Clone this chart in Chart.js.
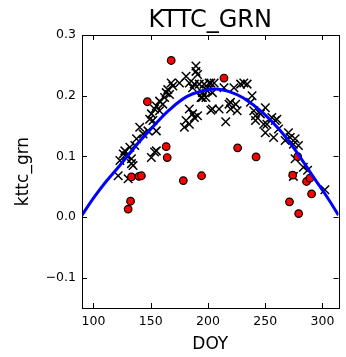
<!DOCTYPE html>
<html><head><meta charset="utf-8">
<script src="https://cdn.jsdelivr.net/npm/chart.js@4/dist/chart.umd.min.js"></script>
<style>html,body{margin:0;padding:0;background:#fff}#wrap{width:346px;height:357px}</style>
</head><body><div id="wrap"><canvas id="c" width="346" height="357"></canvas></div>
<script>
const chartTitle = 'KTTC_GRN';
const xTitle = 'DOY';
const yTitle = 'kttc_grn';
const xTicks = [100, 150, 200, 250, 300];
const xTickLabels = ['100', '150', '200', '250', '300'];
const yTicks = [-0.1, 0.0, 0.1, 0.2, 0.3];
const yTickLabels = ['\u22120.1', '0.0', '0.1', '0.2', '0.3'];

const crossDoy = [121.6,123.1,126.0,127.4,130.3,131.8,133.2,134.6,136.1,137.6,130.3,133.2,128.9,140.4,143.3,147.6,154.9,149.1,151.9,150.6,
  153.4,154.9,157.7,160.6,162.1,163.5,166.4,164.9,167.9,169.3,175.1,180.9,183.7,186.6,189.5,189.5,192.4,198.2,202.5,154.9,
  150.6,153.4,157.7,183.7,180.9,183.7,179.4,188.1,186.6,203.9,195.2,190.9,188.1,196.7,201.0,205.4,195.2,199.6,203.9,193.9,
  198.2,190.9,202.5,209.7,215.5,218.4,219.8,222.7,224.2,225.5,228.5,231.3,234.2,238.5,237.1,240.0,241.5,245.8,248.7,250.1,
  214.0,250.1,255.8,251.5,258.8,257.3,261.6,270.3,271.8,276.1,279.0,274.6,267.4,276.1,283.3,287.0,274.6,302.1,260.2,219.6,241.5];
const crossGrn = [0.068,0.093,0.104,0.109,0.101,0.115,0.096,0.085,0.118,0.129,0.063,0.088,0.101,0.148,0.137,0.142,0.142,0.161,0.159,0.170,
  0.178,0.183,0.191,0.186,0.197,0.205,0.202,0.210,0.221,0.216,0.221,0.232,0.221,0.213,0.249,0.240,0.219,0.210,0.221,0.109,
  0.098,0.107,0.175,0.178,0.159,0.153,0.148,0.164,0.170,0.178,0.197,0.235,0.219,0.219,0.221,0.221,0.205,0.208,0.205,0.197,
  0.197,0.167,0.176,0.178,0.157,0.186,0.178,0.213,0.186,0.175,0.219,0.221,0.219,0.200,0.189,0.175,0.159,0.170,0.153,0.139,
  0.213,0.180,0.164,0.153,0.159,0.131,0.145,0.139,0.131,0.129,0.118,0.120,0.126,0.096,0.082,0.077,0.067,0.045,0.161,0.189,0.167];

const circDoy = [167.9,147.1,163.5,164.4,133.2,139.8,141.9,132.4,130.3,178.5,194.4,214.0,225.9,242.0,278.4,274.0,286.1,289.0,290.5,271.2,279.2];
const circGrn = [0.258,0.190,0.116,0.098,0.066,0.067,0.068,0.026,0.013,0.060,0.068,0.229,0.114,0.099,0.0995,0.069,0.0585,0.064,0.038,0.025,0.0056];

const fitDoy = [90, 100, 110, 123, 140, 152, 166, 181, 195, 207, 218, 231, 249, 266, 280, 292, 304, 314];
const fitGrn = [0.003, 0.031, 0.056, 0.085, 0.124, 0.149, 0.176, 0.198, 0.208, 0.211, 0.207, 0.196, 0.170, 0.136, 0.100, 0.066, 0.033, 0.003];

const toXY = (xs, ys) => xs.map((x, i) => ({x: x, y: ys[i]}));
const FONT = 'DejaVu Sans';

const framePlugin = {
  id: 'frame',
  afterDraw(chart) {
    const ctx = chart.ctx, a = chart.chartArea;
    const xs = chart.scales.x, ys = chart.scales.y;
    ctx.save();
    ctx.strokeStyle = '#000';
    ctx.lineWidth = 1;
    ctx.beginPath();
    const L = 5;
    xTicks.forEach(v => {
      const p = Math.round(xs.getPixelForValue(v)) + 0.5;
      ctx.moveTo(p, a.bottom); ctx.lineTo(p, a.bottom - L);
      ctx.moveTo(p, a.top); ctx.lineTo(p, a.top + L);
    });
    yTicks.forEach(v => {
      const p = Math.round(ys.getPixelForValue(v)) + 0.5;
      ctx.moveTo(a.left, p); ctx.lineTo(a.left + L, p);
      ctx.moveTo(a.right, p); ctx.lineTo(a.right - L, p);
    });
    ctx.stroke();
    ctx.strokeRect(Math.round(a.left) + 0.5, Math.round(a.top) + 0.5, Math.round(a.right - a.left), Math.round(a.bottom - a.top));
    ctx.fillStyle = '#000';
    ctx.font = '24px "' + FONT + '"';
    ctx.textAlign = 'center';
    ctx.textBaseline = 'alphabetic';
    ctx.fillText(chartTitle, (a.left + a.right) / 2, 27);
    ctx.restore();
  }
};

new Chart(document.getElementById('c'), {
  type: 'scatter',
  data: {
    datasets: [
      {
        label: 'fit', data: toXY(fitDoy, fitGrn), showLine: true, borderColor: '#0000ff', borderWidth: 3,
        pointRadius: 0, tension: 0.4, order: 0, fill: false
      },
      {
        label: 'circles', data: toXY(circDoy, circGrn), pointStyle: 'circle', pointRadius: 3.8,
        backgroundColor: '#ff0000', borderColor: '#000', borderWidth: 1.2, order: 1
      },
      {
        label: 'crosses', data: toXY(crossDoy, crossGrn), pointStyle: 'crossRot', pointRadius: 6,
        borderColor: '#000', backgroundColor: '#000', borderWidth: 1.5, order: 2
      }
    ]
  },
  options: {
    responsive: false,
    animation: false,
    devicePixelRatio: 1,
    layout: { padding: { top: 35, right: 6, left: 0, bottom: 0 } },
    plugins: { legend: { display: false }, tooltip: { enabled: false }, title: { display: false } },
    scales: {
      x: {
        type: 'linear', min: 90, max: 314,
        afterBuildTicks: s => { s.ticks = xTicks.map(v => ({value: v})); },
        afterFit: s => { s.height = 49; },
        ticks: { color: '#000', font: { family: FONT, size: 12.5 }, padding: 6,
          callback: (v) => { const i = xTicks.indexOf(v); return i >= 0 ? xTickLabels[i] : ''; } },
        grid: { display: false, drawTicks: false },
        border: { display: false },
        title: { display: true, text: xTitle, color: '#000', font: { family: FONT, size: 17 }, padding: { top: 0, bottom: 2 } }
      },
      y: {
        type: 'linear', min: -0.15, max: 0.3,
        afterBuildTicks: s => { s.ticks = yTicks.map(v => ({value: v})); },
        afterFit: s => { s.width = 82; },
        ticks: { color: '#000', font: { family: FONT, size: 12.5 }, padding: 6,
          callback: (v) => { const i = yTicks.findIndex(t => Math.abs(t - v) < 1e-9); return i >= 0 ? yTickLabels[i] : ''; } },
        grid: { display: false, drawTicks: false },
        border: { display: false },
        title: { display: true, text: yTitle, color: '#000', font: { family: FONT, size: 17 }, padding: { top: 13, bottom: 0 } }
      }
    }
  },
  plugins: [framePlugin]
});
</script>
</body></html>
